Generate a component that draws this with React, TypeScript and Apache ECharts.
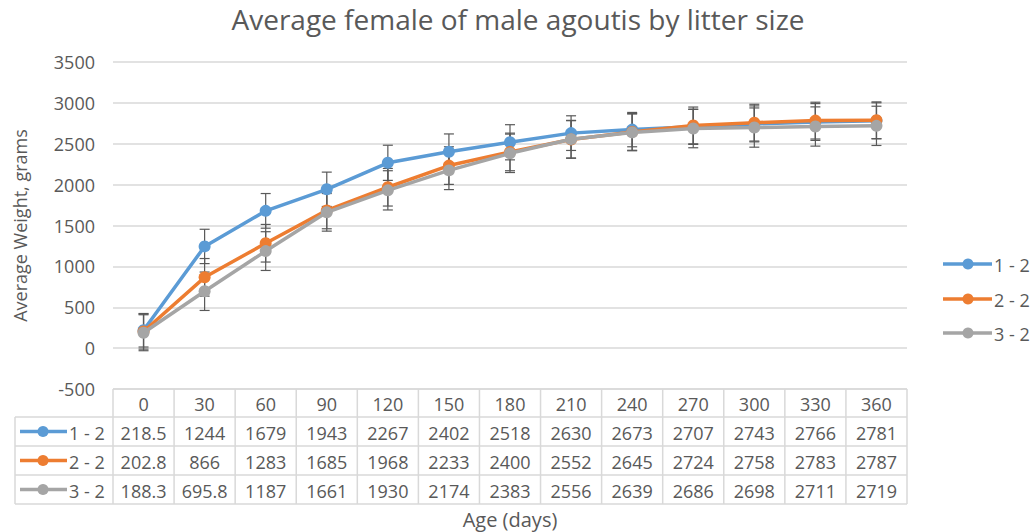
import React, { useEffect, useRef } from "react";
import * as echarts from "echarts";

const categories = ["0", "30", "60", "90", "120", "150", "180", "210", "240", "270", "300", "330", "360"];
const seriesNames = ["1 - 2", "2 - 2", "3 - 2"];
const s1 = [218.5, 1244, 1679, 1943, 2267, 2402, 2518, 2630, 2673, 2707, 2743, 2766, 2781];
const s2 = [202.8, 866, 1283, 1685, 1968, 2233, 2400, 2552, 2645, 2724, 2758, 2783, 2787];
const s3 = [188.3, 695.8, 1187, 1661, 1930, 2174, 2383, 2556, 2639, 2686, 2698, 2711, 2719];
const err1 = [205, 210, 212, 210, 215, 218, 215, 212, 210, 215, 220, 225, 220];
const err2 = [215, 230, 230, 225, 230, 230, 230, 230, 225, 225, 225, 225, 225];
const err3 = [220, 235, 237, 230, 240, 235, 235, 230, 225, 235, 240, 240, 240];
const yTicks = { min: -500, max: 3500, interval: 500 };
const colors = ["#5B9BD5", "#ED7D31", "#A5A5A5"];

const W = 1036;
const H = 532;
const GL = 113;
const GR = 907;
const GT = 62;
const GB = 389;
const ROW_H = [28, 29, 29, 29];
const FONT = "'Open Sans', sans-serif";
const TXT = "#595959";
const BORDER = "#D9D9D9";
const FS = 18;

export default function App() {
  const ref = useRef<HTMLDivElement>(null);
  useEffect(() => {
    if (!ref.current) return;
    const chart = echarts.init(ref.current, undefined, { renderer: "svg" });
    const values = [s1, s2, s3];
    const errs = [err1, err2, err3];
    const colW = (GR - GL) / categories.length;

    const graphic: any[] = [];
    let y = GB;
    const rowTops: number[] = [];
    for (let r = 0; r < ROW_H.length; r++) {
      rowTops.push(y);
      y += ROW_H[r];
    }
    const tableBottom = y;
    graphic.push({ type: "line", shape: { x1: GL, y1: GB, x2: GR, y2: GB }, style: { stroke: BORDER, lineWidth: 1.5 } });
    for (let r = 1; r <= ROW_H.length; r++) {
      const yy = r < ROW_H.length ? rowTops[r] : tableBottom;
      graphic.push({ type: "line", shape: { x1: 15, y1: yy, x2: GR, y2: yy }, style: { stroke: BORDER, lineWidth: 1.5 } });
    }
    graphic.push({ type: "line", shape: { x1: 15, y1: rowTops[1], x2: 15, y2: tableBottom }, style: { stroke: BORDER, lineWidth: 1.5 } });
    for (let c = 0; c <= categories.length; c++) {
      const xx = GL + c * colW;
      graphic.push({ type: "line", shape: { x1: xx, y1: GB, x2: xx, y2: tableBottom }, style: { stroke: BORDER, lineWidth: 1.5 } });
    }
    categories.forEach((cat, c) => {
      graphic.push({
        type: "text",
        x: GL + (c + 0.5) * colW,
        y: rowTops[0] + ROW_H[0] / 2 + 1,
        style: { text: cat, fill: TXT, font: `${FS}px ${FONT}`, align: "center", verticalAlign: "middle" },
      });
    });
    values.forEach((vals, s) => {
      const cy = rowTops[s + 1] + ROW_H[s + 1] / 2;
      graphic.push({ type: "line", shape: { x1: 20, y1: cy, x2: 67, y2: cy }, style: { stroke: colors[s], lineWidth: 3.5 } });
      graphic.push({ type: "circle", shape: { cx: 43, cy, r: 5.5 }, style: { fill: colors[s] } });
      graphic.push({
        type: "text",
        x: 69,
        y: cy + 1,
        style: { text: seriesNames[s], fill: TXT, font: `${FS}px ${FONT}`, align: "left", verticalAlign: "middle" },
      });
      vals.forEach((v, c) => {
        graphic.push({
          type: "text",
          x: GL + (c + 0.5) * colW,
          y: cy + 1,
          style: { text: String(v), fill: TXT, font: `${FS}px ${FONT}`, align: "center", verticalAlign: "middle" },
        });
      });
    });
    // right-side legend
    const legendY = [264, 299, 333];
    seriesNames.forEach((nm, s) => {
      const ly = legendY[s];
      graphic.push({ type: "line", shape: { x1: 943, y1: ly, x2: 992, y2: ly }, style: { stroke: colors[s], lineWidth: 3.5 } });
      graphic.push({ type: "circle", shape: { cx: 968, cy: ly, r: 5.5 }, style: { fill: colors[s] } });
      graphic.push({
        type: "text",
        x: 994,
        y: ly + 1,
        style: { text: nm, fill: TXT, font: `${FS}px ${FONT}`, align: "left", verticalAlign: "middle" },
      });
    });

    const errSeries = values.map((vals, s) => ({
      type: "custom",
      name: seriesNames[s] + " err",
      z: 1,
      silent: true,
      data: vals.map((v, i) => [i, v - errs[s][i], v + errs[s][i]]),
      renderItem: (params: any, api: any) => {
        const x = api.value(0);
        const lo = api.coord([x, api.value(1)]);
        const hi = api.coord([x, api.value(2)]);
        const hw = 5;
        const st = { stroke: "#595959", lineWidth: 1.2 };
        return {
          type: "group",
          children: [
            { type: "line", shape: { x1: lo[0], y1: lo[1], x2: hi[0], y2: hi[1] }, style: st },
            { type: "line", shape: { x1: lo[0] - hw, y1: lo[1], x2: lo[0] + hw, y2: lo[1] }, style: st },
            { type: "line", shape: { x1: hi[0] - hw, y1: hi[1], x2: hi[0] + hw, y2: hi[1] }, style: st },
          ],
        };
      },
    }));

    const lineSeries = values.map((vals, s) => ({
      type: "line",
      name: seriesNames[s],
      data: vals,
      z: 2 + s,
      symbol: "circle",
      symbolSize: 12,
      lineStyle: { width: 3.5, color: colors[s] },
      itemStyle: { color: colors[s] },
    }));

    chart.setOption({
      animation: false,
      title: {
        text: "Average female of male agoutis by litter size",
        left: "center",
        top: 0,
        textStyle: { fontFamily: FONT, fontSize: 28, fontWeight: "normal", color: TXT },
      },
      grid: { left: GL, right: W - GR, top: GT, bottom: H - GB, outerBoundsMode: "none" },
      xAxis: {
        type: "category",
        data: categories,
        boundaryGap: true,
        axisLine: { show: false },
        axisTick: { show: false },
        axisLabel: { show: false },
        name: "Age (days)",
        nameLocation: "middle",
        nameGap: 120,
        nameTextStyle: { fontFamily: FONT, fontSize: 20, color: TXT },
      },
      yAxis: {
        type: "value",
        min: yTicks.min,
        max: yTicks.max,
        interval: yTicks.interval,
        axisLine: { show: false },
        axisTick: { show: false },
        axisLabel: { fontFamily: FONT, fontSize: FS, color: TXT, margin: 18, formatter: (v: number) => String(v) },
        splitLine: { lineStyle: { color: BORDER, width: 1.5 } },
        name: "Average Weight, grams",
        nameLocation: "middle",
        nameGap: 84,
        nameTextStyle: { fontFamily: FONT, fontSize: 18, color: TXT },
      },
      series: [...errSeries, ...lineSeries],
      graphic,
    });
    return () => chart.dispose();
  }, []);
  return <div ref={ref} style={{ width: W, height: H, position: "absolute", left: 0, top: 0 }} />;
}
